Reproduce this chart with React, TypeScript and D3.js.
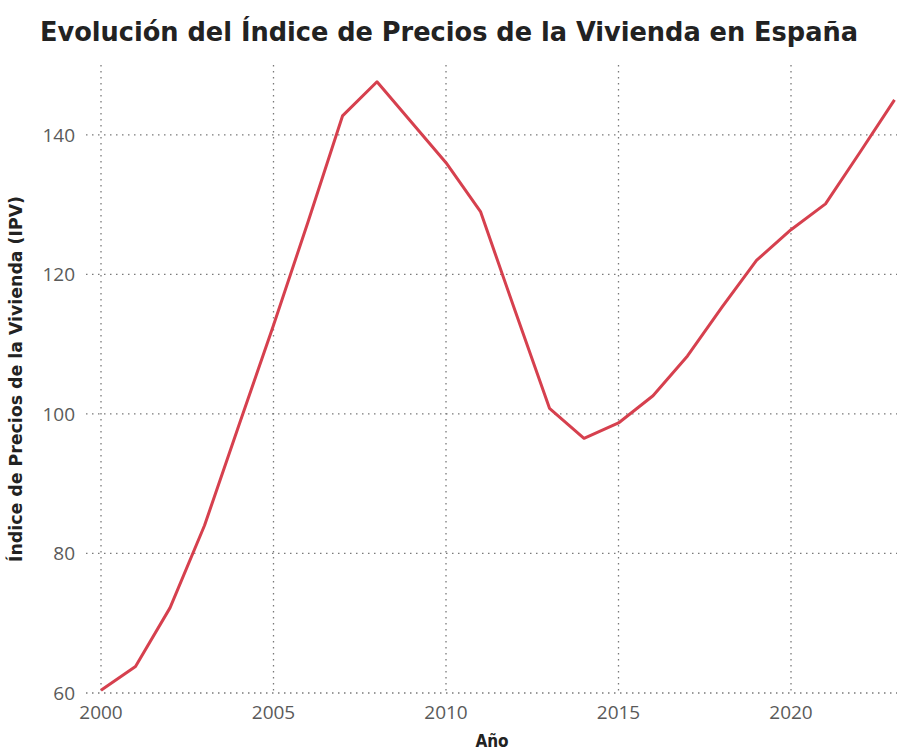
import { useEffect, useRef } from "react";
import * as d3 from "d3";

// Índice de Precios de la Vivienda, 2000-2023
const years = [
  2000, 2001, 2002, 2003, 2004, 2005, 2006, 2007, 2008, 2009, 2010, 2011,
  2012, 2013, 2014, 2015, 2016, 2017, 2018, 2019, 2020, 2021, 2022, 2023,
];
const ipv = [
  60.4, 63.8, 72.2, 84.0, 98.4, 112.7, 127.5, 142.7, 147.6, 141.8, 136.0,
  129.0, 114.8, 100.8, 96.5, 98.7, 102.6, 108.3, 115.3, 122.0, 126.4, 130.1,
  137.5, 145.0,
];
const xTicks = [2000, 2005, 2010, 2015, 2020];
const yTicks = [60, 80, 100, 120, 140];

const title = "Evolución del Índice de Precios de la Vivienda en España";
const xTitle = "Año";
const yTitle = "Índice de Precios de la Vivienda (IPV)";

const App = () => {
  const svgRef = useRef<SVGSVGElement | null>(null);

  useEffect(() => {
    const width = 897;
    const height = 751;
    const plot = { left: 86, right: 897, top: 65, bottom: 693 };

    const svg = d3.select(svgRef.current);
    svg.selectAll("*").remove();
    svg.attr("width", width).attr("height", height);

    svg
      .append("rect")
      .attr("width", width)
      .attr("height", height)
      .attr("fill", "white");

    const x = d3.scaleLinear().domain([2000, 2023]).range([101, 894.5]);
    const y = d3.scaleLinear().domain([60, 150]).range([plot.bottom, plot.top]);

    const grid = svg.append("g");
    // vertical grid
    grid
      .selectAll(".vgrid")
      .data(xTicks)
      .enter()
      .append("line")
      .attr("x1", (d) => x(d))
      .attr("x2", (d) => x(d))
      .attr("y1", plot.top)
      .attr("y2", plot.bottom)
      .attr("stroke", "#7a7a7a")
      .attr("stroke-width", 1.3)
      .attr("stroke-dasharray", "1.5,4.5");

    // horizontal grid
    grid
      .selectAll(".hgrid")
      .data(yTicks)
      .enter()
      .append("line")
      .attr("x1", plot.left)
      .attr("x2", plot.right)
      .attr("y1", (d) => y(d))
      .attr("y2", (d) => y(d))
      .attr("stroke", "#7a7a7a")
      .attr("stroke-width", 1.3)
      .attr("stroke-dasharray", "1.5,4.5");

    // tick labels
    svg
      .selectAll(".xlab")
      .data(xTicks)
      .enter()
      .append("text")
      .attr("x", (d) => x(d))
      .attr("y", 719)
      .attr("text-anchor", "middle")
      .attr("fill", "#5a5a5a")
      .style("font-family", "'Open Sans', sans-serif")
      .style("font-size", "19px")
      .text((d) => d);

    svg
      .selectAll(".ylab")
      .data(yTicks)
      .enter()
      .append("text")
      .attr("x", 75)
      .attr("y", (d) => y(d))
      .attr("text-anchor", "end")
      .attr("dominant-baseline", "central")
      .attr("fill", "#5a5a5a")
      .style("font-family", "'Open Sans', sans-serif")
      .style("font-size", "19px")
      .text((d) => d);

    // the line
    const line = d3
      .line<number>()
      .x((_, i) => x(years[i]))
      .y((d) => y(d));

    svg
      .append("path")
      .datum(ipv)
      .attr("d", line)
      .attr("fill", "none")
      .attr("stroke", "#d6404e")
      .attr("stroke-width", 3)
      .attr("stroke-linejoin", "round");

    // titles
    svg
      .append("text")
      .attr("x", 449)
      .attr("y", 41)
      .attr("text-anchor", "middle")
      .attr("fill", "#222")
      .attr("textLength", 818)
      .attr("lengthAdjust", "spacingAndGlyphs")
      .style("font-family", "'DejaVu Sans Condensed', 'DejaVu Sans', sans-serif")
      .style("font-weight", "bold")
      .style("font-size", "27px")
      .text(title);

    svg
      .append("text")
      .attr("x", 492)
      .attr("y", 747)
      .attr("text-anchor", "middle")
      .attr("fill", "#222")
      .style("font-family", "'DejaVu Sans Condensed', 'DejaVu Sans', sans-serif")
      .style("font-weight", "bold")
      .style("font-size", "17px")
      .text(xTitle);

    svg
      .append("text")
      .attr("transform", `translate(22, ${(plot.top + plot.bottom) / 2}) rotate(-90)`)
      .attr("text-anchor", "middle")
      .attr("fill", "#222")
      .attr("textLength", 366)
      .attr("lengthAdjust", "spacingAndGlyphs")
      .style("font-family", "'DejaVu Sans Condensed', 'DejaVu Sans', sans-serif")
      .style("font-weight", "bold")
      .style("font-size", "17px")
      .text(yTitle);
  }, []);

  return (
    <svg
      ref={svgRef}
      style={{ position: "absolute", left: 0, top: 0, display: "block" }}
    ></svg>
  );
};

export default App;
